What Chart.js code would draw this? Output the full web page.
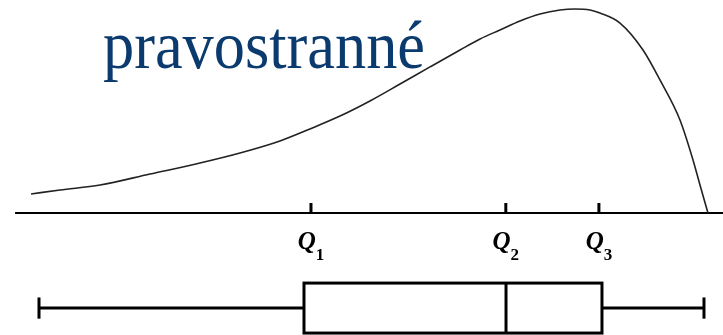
<!DOCTYPE html>
<html>
<head>
  <title>pravostranné</title>
  <script src="https://cdn.jsdelivr.net/npm/chart.js"></script>
  <style>
    body {
      margin: 0;
      padding: 0;
      background-color: #ffffff;
    }
    .chart-container {
      position: relative;
      width: 723px;
      height: 335px;
    }
  </style>
</head>
<body>
  <div class="chart-container">
    <canvas id="skewChart"></canvas>
  </div>

  <script>
    // Density curve (x in 0-100 value units, y relative density)
    const curveX = [-1.2, 3.16, 9.17, 16.69, 24.21, 30.23, 36.24, 40.75, 45.26, 49.77, 54.29, 58.80,
                    63.31, 66.32, 69.32, 72.33, 75.34, 78.35, 80.60, 82.86, 84.36, 87.37, 90.83,
                    93.38, 96.39, 98.35, 99.40, 100.6];
    const curveY = [0.093, 0.113, 0.137, 0.191, 0.245, 0.294, 0.353, 0.412, 0.475, 0.549, 0.632, 0.716,
                    0.799, 0.853, 0.897, 0.941, 0.975, 0.995, 1.0, 0.995, 0.980, 0.931, 0.799,
                    0.652, 0.456, 0.260, 0.137, 0];

    // Box plot: min, Q1, median, Q3, max
    const boxStats = [0, 39.85, 70.23, 84.66, 100];

    // Quartile ticks on the axis and their labels
    const quartileTicks = [40.9, 70.2, 84.2];
    const quartileLabels = ['1', '2', '3'];

    const titleText = 'pravostranné';

    // layout, in y units of the chart
    const axisStart = -3.6;
    const boxCenter = -0.466;
    const boxHalf = 0.1225;
    const capHalf = 0.052;

    const curveData = curveX.map((x, i) => ({ x: x, y: curveY[i] }));

    const boxPlugin = {
      id: 'boxPlugin',
      afterDatasetsDraw(chart) {
        const ctx = chart.ctx;
        const xs = chart.scales.x;
        const ys = chart.scales.y;
        const px = v => xs.getPixelForValue(v);
        const py = v => ys.getPixelForValue(v);

        ctx.save();
        ctx.strokeStyle = '#000000';
        ctx.lineWidth = 3;
        ctx.lineCap = 'butt';

        // quartile ticks on the axis
        quartileTicks.forEach(q => {
          ctx.beginPath();
          ctx.moveTo(px(q), py(0));
          ctx.lineTo(px(q), py(0) - 10);
          ctx.stroke();
        });

        // whiskers
        const yc = py(boxCenter);
        ctx.beginPath();
        ctx.moveTo(px(boxStats[0]), yc);
        ctx.lineTo(px(boxStats[1]), yc);
        ctx.moveTo(px(boxStats[3]), yc);
        ctx.lineTo(px(boxStats[4]), yc);
        ctx.stroke();

        // caps
        [boxStats[0], boxStats[4]].forEach(v => {
          ctx.beginPath();
          ctx.moveTo(px(v), py(boxCenter + capHalf));
          ctx.lineTo(px(v), py(boxCenter - capHalf));
          ctx.stroke();
        });

        // box
        const top = py(boxCenter + boxHalf);
        const bottom = py(boxCenter - boxHalf);
        ctx.strokeRect(px(boxStats[1]), top, px(boxStats[3]) - px(boxStats[1]), bottom - top);

        // median
        ctx.beginPath();
        ctx.moveTo(px(boxStats[2]), top);
        ctx.lineTo(px(boxStats[2]), bottom);
        ctx.stroke();

        // Q labels
        ctx.fillStyle = '#000000';
        ctx.textBaseline = 'alphabetic';
        quartileTicks.forEach((q, i) => {
          ctx.font = 'italic bold 25px "Liberation Serif"';
          const qw = ctx.measureText('Q').width;
          ctx.font = 'bold 17px "Liberation Serif"';
          const sw = ctx.measureText(quartileLabels[i]).width;
          const left = px(q) - (qw + sw) / 2;
          ctx.font = 'italic bold 25px "Liberation Serif"';
          ctx.fillText('Q', left, 249);
          ctx.font = 'bold 17px "Liberation Serif"';
          ctx.fillText(quartileLabels[i], left + qw, 260);
        });

        // title, slightly condensed like the original
        ctx.fillStyle = '#0b3a6e';
        ctx.font = '67px "Liberation Serif"';
        const tw = ctx.measureText(titleText).width;
        ctx.translate(103, 68);
        ctx.scale(322 / tw, 1);
        ctx.fillText(titleText, 0, 0);
        ctx.restore();
      }
    };

    const ctx = document.getElementById('skewChart').getContext('2d');
    new Chart(ctx, {
      type: 'scatter',
      data: {
        datasets: [
          {
            label: 'hustota',
            data: curveData,
            showLine: true,
            borderColor: '#222222',
            borderWidth: 1.6,
            pointRadius: 0,
            cubicInterpolationMode: 'monotone'
          },
          {
            label: 'osa',
            data: [{ x: axisStart, y: 0 }, { x: 103, y: 0 }],
            showLine: true,
            borderColor: '#000000',
            borderWidth: 2,
            pointRadius: 0
          }
        ]
      },
      options: {
        responsive: true,
        maintainAspectRatio: false,
        animation: false,
        devicePixelRatio: 1,
        layout: { padding: 0 },
        scales: {
          x: { type: 'linear', min: -5.865, max: 102.86, display: false },
          y: { type: 'linear', min: -0.598, max: 1.044, display: false }
        },
        plugins: {
          legend: { display: false },
          tooltip: { enabled: false }
        }
      },
      plugins: [boxPlugin]
    });
  </script>
</body>
</html>
